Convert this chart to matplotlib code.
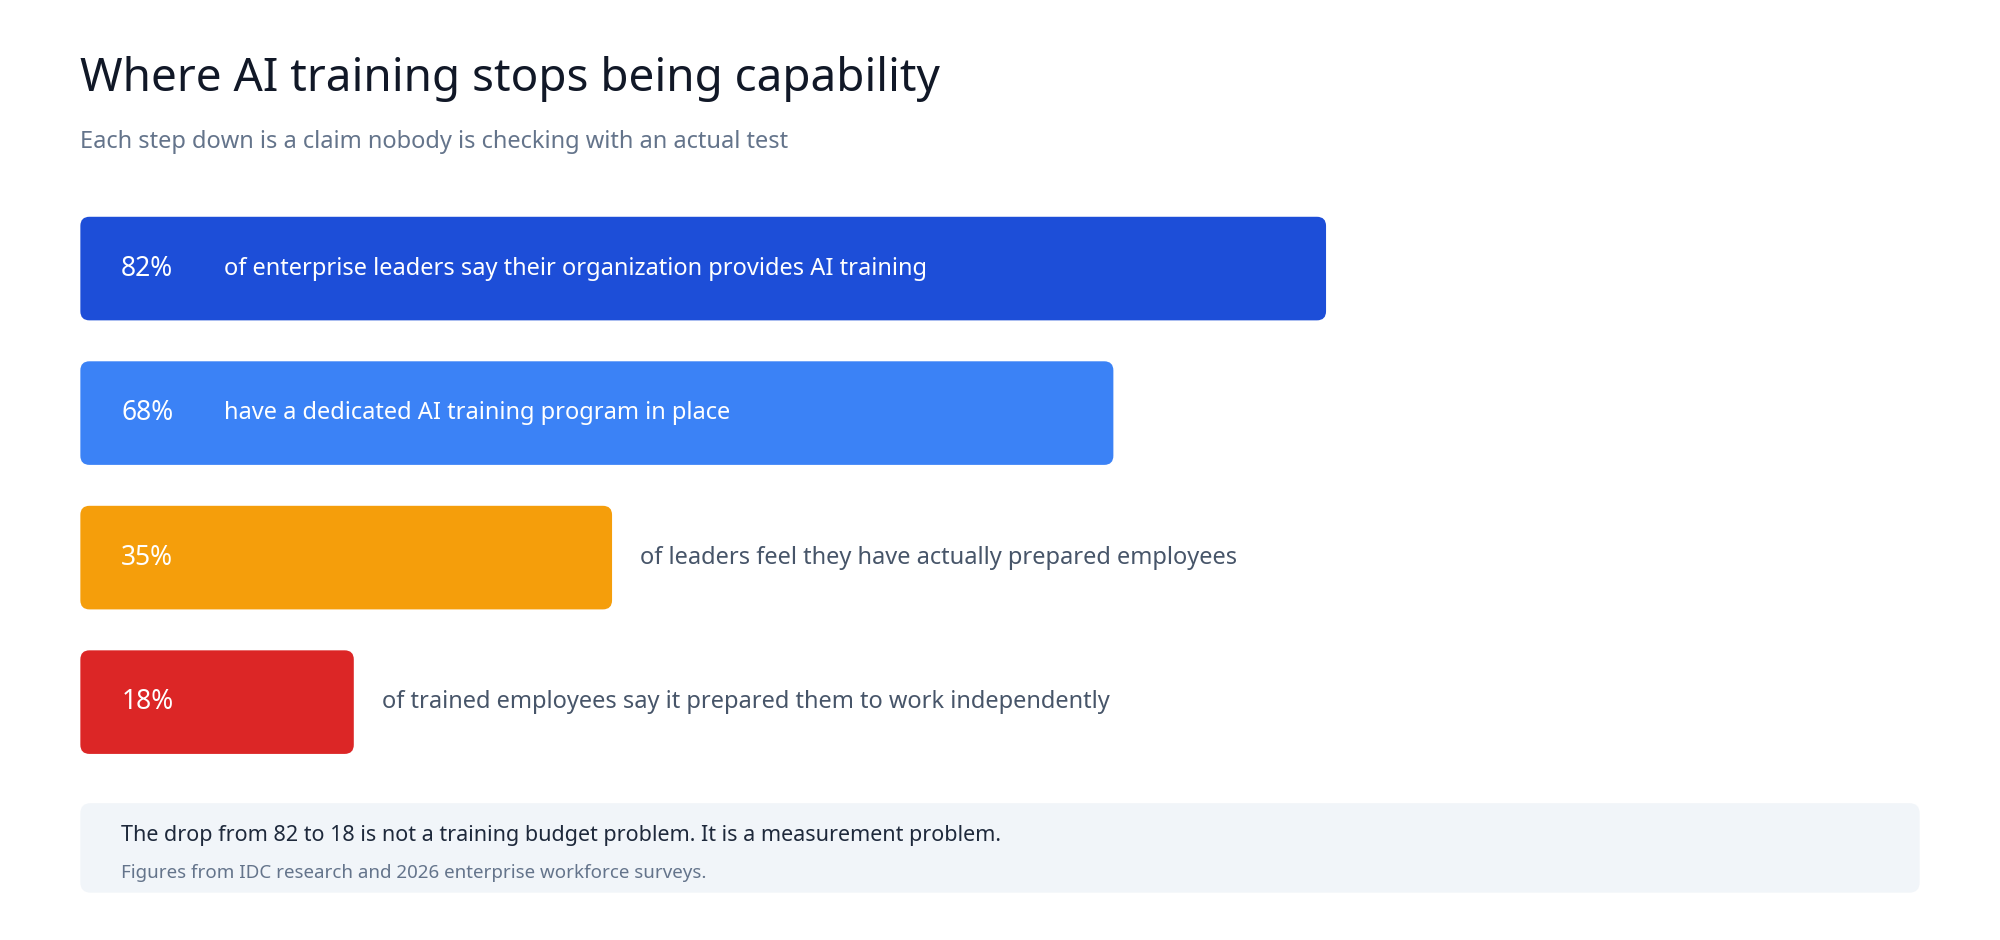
import matplotlib.pyplot as plt
from matplotlib.patches import FancyBboxPatch

values = [82, 68, 35, 18]
pct_labels = ["82%", "68%", "35%", "18%"]
descriptions = [
    "of enterprise leaders say their organization provides AI training",
    "have a dedicated AI training program in place",
    "of leaders feel they have actually prepared employees",
    "of trained employees say it prepared them to work independently",
]
colors = ["#1d4ed8", "#3b82f6", "#f59e0b", "#dc2626"]
inside = [True, True, False, False]

title = "Where AI training stops being capability"
subtitle = "Each step down is a claim nobody is checking with an actual test"
note = "The drop from 82 to 18 is not a training budget problem. It is a measurement problem."
source = "Figures from IDC research and 2026 enterprise workforce surveys."

plt.rcParams['font.family'] = ['Noto Sans', 'DejaVu Sans']

W, H = 1568, 735  # layout grid in reference pixels
fig = plt.figure(figsize=(20, 9.4), dpi=100)
bg = fig.add_axes([0, 0, 1, 1])
bg.set_xlim(0, W)
bg.set_ylim(H, 0)
bg.axis('off')

bg.text(63, 62, title, fontsize=33, fontweight='bold', color='#111827', va='center')
bg.text(63, 111, subtitle, fontsize=17, color='#64748b', va='center')

# bar axes: x in percent, 100% spans 1191 px
x0, x100 = 63, 63 + 1191
y_top, y_bot = 150, 610
ax = fig.add_axes([x0 / W, 1 - y_bot / H, (x100 - x0) / W, (y_bot - y_top) / H])
ax.set_xlim(0, 100)
ax.set_ylim(y_bot, y_top)
ax.axis('off')

centers = [210, 323, 436, 549]
bh = 81
px_per_unit = (x100 - x0) / 100
for v, p, d, c, ins, yc in zip(values, pct_labels, descriptions, colors, inside, centers):
    ax.add_patch(FancyBboxPatch((0, yc - bh / 2), v, bh,
                                boxstyle="round,pad=0,rounding_size=0.6",
                                mutation_aspect=px_per_unit, fc=c, ec='none'))
    ax.text(32 / px_per_unit, yc, p, fontsize=19, fontweight='bold', color='white', va='center')
    if ins:
        ax.text(113 / px_per_unit, yc, d, fontsize=17, color='white', va='center')
    else:
        ax.text(v + 22 / px_per_unit, yc, d, fontsize=17, color='#475569', va='center')

bg.add_patch(FancyBboxPatch((63, 628), 1442, 70, boxstyle="round,pad=0,rounding_size=8",
                            fc='#f1f5f9', ec='none'))
bg.text(95, 653, note, fontsize=15.5, color='#1e293b', va='center')
bg.text(95, 683, source, fontsize=13.5, color='#64748b', va='center')

fig.savefig("out.png", dpi=100)
